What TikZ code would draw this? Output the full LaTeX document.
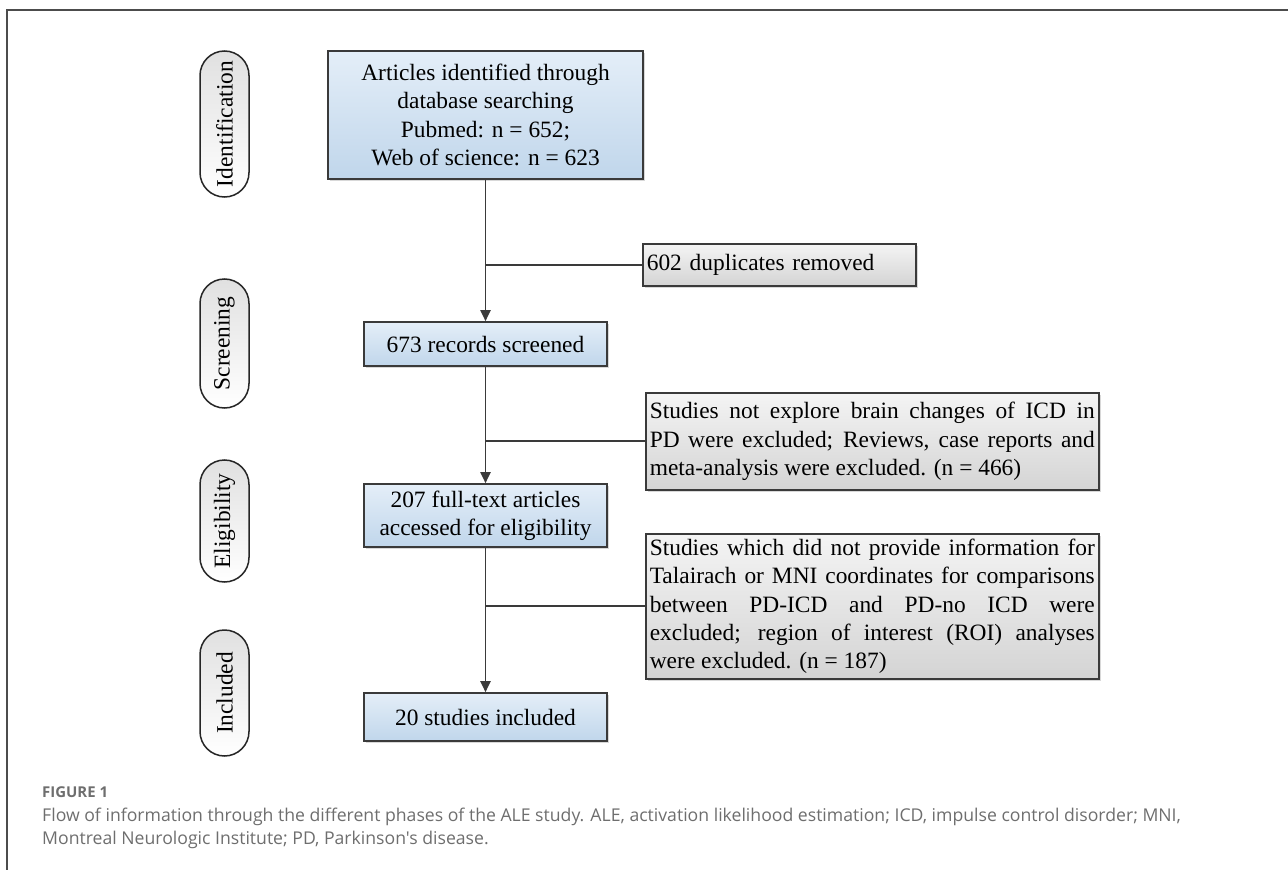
\documentclass[tikz,border=0pt]{standalone}
\usepackage{fontspec}
\setmainfont{Liberation Serif}
\newfontfamily\captionfont{Open Sans}
\usepackage{xcolor}
\usetikzlibrary{arrows.meta,shadows,positioning}
\definecolor{box-blue-top}{HTML}{E4EEF8}
\definecolor{box-blue-bottom}{HTML}{C0D6EB}
\definecolor{box-grey-top}{HTML}{F4F4F4}
\definecolor{box-grey-bottom}{HTML}{D4D4D4}
\definecolor{edge-dark}{HTML}{3A3A3A}
\definecolor{caption-grey}{HTML}{6E6E6E}
\tikzset{
    flow-box/.style = {draw=edge-dark, line width=1.6bp, rectangle, inner sep=3bp, font=\fontsize{23.5}{28.5}\selectfont, drop shadow={shadow xshift=2bp, shadow yshift=-2bp, fill=black!30, opacity=0.5}},
    blue-box/.style = {flow-box, top color=box-blue-top, bottom color=box-blue-bottom, align=center},
    grey-box/.style = {flow-box, top color=box-grey-top, bottom color=box-grey-bottom, anchor=north west, inner xsep=4bp},
    phase-pill/.style = {draw=black!85, line width=1.5bp, rounded corners=24.5bp, minimum height=49bp, inner sep=0pt, top color=black!12, bottom color=white, rotate=90, font=\fontsize{23.5}{28.5}\selectfont},
    flow-line/.style = {draw=edge-dark, line width=1.9bp},
    flow-arrow/.style = {flow-line, -{Triangle[length=11bp,width=10bp]}},
    frame-line/.style = {draw=black!70, line width=1.3bp},
    caption-head/.style = {inner sep=0pt, anchor=base west, text=caption-grey, font=\captionfont\bfseries\fontsize{15}{18}\selectfont},
    caption-text/.style = {inner sep=0pt, anchor=base west, text=caption-grey, font=\captionfont\fontsize{17.7}{23}\selectfont},
}

\begin{document}
\begin{tikzpicture}[x=1bp, y=-1bp]
\useasboundingbox (0,0) rectangle (1288,870);
\draw[frame-line] (7,870) -- (7,10) -- (1288,10);

% phases
\node[phase-pill, minimum width=146bp] (ident) at (224.5,124) {Identification};
\node[phase-pill, minimum width=129bp] (screen) at (224.5,343.5) {Screening};
\node[phase-pill, minimum width=122bp] (elig) at (224.5,521) {Eligibility};
\node[phase-pill, minimum width=126bp] (incl) at (224.5,693) {Included};

% main column
\node[blue-box, minimum width=315bp, minimum height=128bp] (search) at (485.5,115) {Articles identified through\\database searching\\Pubmed: n = 652;\\Web of science: n = 623};
\node[blue-box, minimum width=243bp, minimum height=44bp] (screened) at (485.5,344) {673 records screened};
\node[blue-box, minimum width=243bp, minimum height=63bp] (fulltext) at (485.5,515.5) {207 full-text articles\\accessed for eligibility};
\node[blue-box, minimum width=243bp, minimum height=48bp] (included) at (485.5,717) {20 studies included};

% exclusions
\node[grey-box, minimum width=273bp, minimum height=42bp, text width=265bp, align=left] (removed) at (642,243) {602 duplicates removed};
\node[grey-box, minimum width=453bp, minimum height=97bp, text width=445bp, align=justify] (excl-first) at (645,392) {Studies not explore brain changes of ICD in\linebreak PD were excluded; Reviews, case reports and\linebreak meta-analysis were excluded. (n = 466)};
\node[grey-box, minimum width=453bp, minimum height=145bp, text width=445bp, align=justify] (excl-second) at (645,533) {Studies which did not provide information for\linebreak Talairach or MNI coordinates for comparisons\linebreak between PD-ICD and PD-no ICD were\linebreak excluded; region of interest (ROI) analyses\linebreak were excluded. (n = 187)};

\draw[flow-arrow] (search) -- (screened);
\draw[flow-arrow] (screened) -- (fulltext);
\draw[flow-arrow] (fulltext) -- (included);
\draw[flow-line] (search.south |- removed.west) -- (removed.west);
\draw[flow-line] (search.south |- excl-first.west) -- (excl-first.west);
\draw[flow-line] (search.south |- excl-second.west) -- (excl-second.west);

% caption
\node[caption-head] (fig-head) at (42,797) {FIGURE 1};
\node[caption-text] (fig-line-one) at (42,821) {Flow of information through the different phases of the ALE study. ALE, activation likelihood estimation; ICD, impulse control disorder; MNI,};
\node[caption-text] (fig-line-two) at (42,844) {Montreal Neurologic Institute; PD, Parkinson's disease.};
\end{tikzpicture}
\end{document}
